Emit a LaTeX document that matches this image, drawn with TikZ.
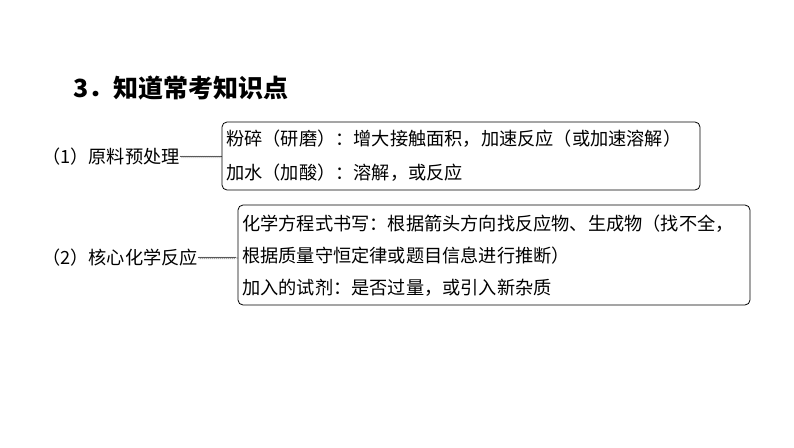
\documentclass[tikz,border=0pt]{standalone}
\usepackage{fontspec}
\setmainfont{Noto Sans CJK SC}
\usetikzlibrary{decorations.pathmorphing}
\begin{document}
\begin{tikzpicture}[x=1pt,y=-1pt,
  txt/.style={anchor=west,inner sep=0pt,font=\fontsize{18.2}{18}\selectfont},
  bx/.style={draw,rounded corners=5pt,line width=0.8pt},
  conn/.style={decorate,decoration={coil,aspect=0.5,segment length=2pt,amplitude=1pt},line width=0.3pt}]
\useasboundingbox (0,0) rectangle (794,447);
\node[txt,font=\fontsize{25}{25}\selectfont\bfseries] (t) at (73,88) {3．知道常考知识点};
\node[txt] (l1) at (42,157) {（1）原料预处理};
\draw[bx] (222,122) rectangle (700,190);
\coordinate (b1) at (222,157);
\node[txt] at (226,139) {粉碎（研磨）：增大接触面积，加速反应（或加速溶解）};
\node[txt] at (226,173) {加水（加酸）：溶解，或反应};
\draw[conn] (l1.east) -- (b1);
\node[txt] (l2) at (42,258) {（2）核心化学反应};
\draw[bx] (238,205) rectangle (750,305);
\coordinate (b2) at (238,258);
\node[txt] at (242,224) {化学方程式书写：根据箭头方向找反应物、生成物（找不全，};
\node[txt] at (242,256) {根据质量守恒定律或题目信息进行推断）};
\node[txt] at (242,288) {加入的试剂：是否过量，或引入新杂质};
\draw[conn] (l2.east) -- (b2);
\end{tikzpicture}
\end{document}
